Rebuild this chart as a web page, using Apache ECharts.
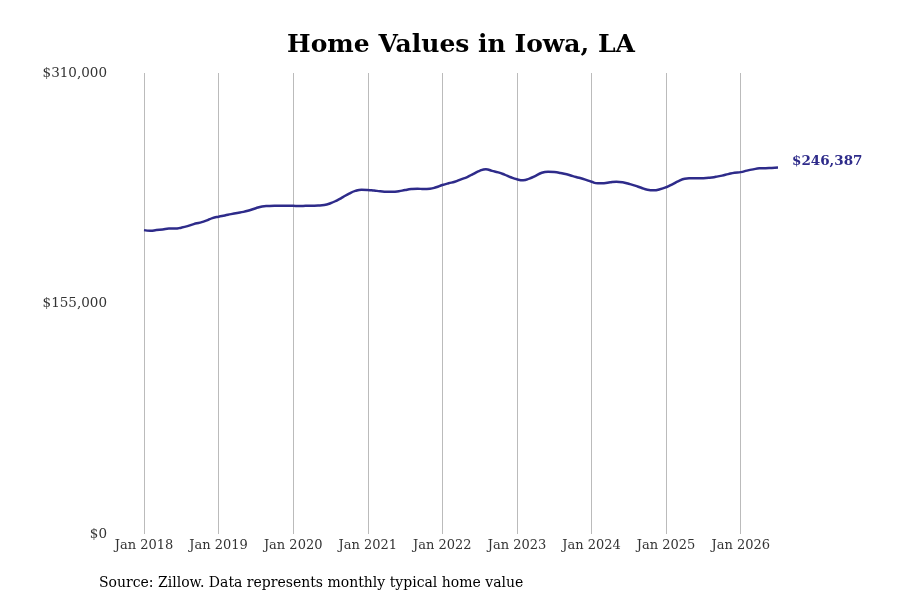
<!DOCTYPE html>
<html>
<head>
<meta charset="utf-8">
<script src="https://cdn.jsdelivr.net/npm/echarts@6/dist/echarts.min.js"></script>
<style>
  html, body { margin: 0; padding: 0; background: #fff; }
  #chart { width: 900px; height: 600px; }
</style>
</head>
<body>
<div id="chart"></div>
<script>
var monthNames = ['Jan', 'Feb', 'Mar', 'Apr', 'May', 'Jun', 'Jul', 'Aug', 'Sep', 'Oct', 'Nov', 'Dec'];

// one entry per month, Jan 2018 .. Jul 2026
var months = [];
for (var y = 2018; y <= 2026; y++) {
    for (var m = 0; m < 12; m++) {
        if (y === 2026 && m > 6) break;
        months.push(monthNames[m] + ' ' + y);
    }
}

var homeValues = [
    204350, 204000, 204350, 204800, 205350, 205350, 206000, 207000, 208400, 209400, 210700, 212400,
    213400, 214200, 215100, 215900, 216600, 217750, 219100, 220200, 220550, 220700, 220700, 220750,
    220650, 220550, 220650, 220750, 220850, 221200, 222400, 224250, 226500, 228900, 230700, 231500,
    231350, 230950, 230500, 230150, 230100, 230500, 231300, 231950, 232200, 231950, 232150, 233150,
    234650, 235850, 236850, 238500, 240050, 242200, 244200, 245200, 244200, 243200, 241700, 239900,
    238500, 237850, 239000, 240850, 242900, 243550, 243350, 242750, 241900, 240650, 239550, 238300,
    236850, 235850, 235850, 236500, 236850, 236500, 235500, 234300, 232800, 231500, 231150, 231800,
    233150, 235150, 237300, 238850, 239200, 239300, 239300, 239550, 240200, 241000, 242000, 242900,
    243350, 244350, 245200, 245900, 246000, 246200, 246387
];

var yTicks = [0, 155000, 310000];

var lineColor = '#2e2b8a';
var serif = 'DejaVu Serif';

function money(v) {
    return '$' + Math.round(v).toLocaleString('en-US');
}

function isJan(index) {
    return index % 12 === 0;
}

var chart = echarts.init(document.getElementById('chart'));
var options = {
    backgroundColor: '#fff',
    animation: false,
    title: [
        {
            text: 'Home Values in Iowa, LA',
            left: 456,
            top: 28,
            textAlign: 'center',
            textStyle: {
                fontFamily: serif,
                fontWeight: 'bold',
                fontSize: 25,
                color: '#000'
            }
        },
        {
            text: 'Source: Zillow. Data represents monthly typical home value',
            left: 94,
            top: 571,
            textStyle: {
                fontFamily: serif,
                fontWeight: 'normal',
                fontSize: 14,
                color: '#000'
            }
        }
    ],
    grid: {
        left: 144,
        right: 122,
        top: 73,
        bottom: 66,
        containLabel: false
    },
    xAxis: {
        type: 'category',
        data: months,
        boundaryGap: false,
        axisLine: { show: false },
        axisTick: { show: false },
        axisLabel: {
            interval: function (index) { return isJan(index); },
            margin: 5,
            fontFamily: serif,
            fontSize: 13,
            color: '#333'
        },
        splitLine: {
            show: true,
            interval: function (index) { return isJan(index); },
            lineStyle: { color: '#bbb', width: 1 }
        }
    },
    yAxis: {
        type: 'value',
        min: yTicks[0],
        max: yTicks[yTicks.length - 1],
        interval: yTicks[1] - yTicks[0],
        axisLine: { show: false },
        axisTick: { show: false },
        splitLine: { show: false },
        axisLabel: {
            margin: 37,
            fontFamily: serif,
            fontSize: 13.5,
            color: '#333',
            formatter: function (v) { return money(v); }
        }
    },
    series: [
        {
            type: 'line',
            data: homeValues,
            smooth: true,
            symbol: 'none',
            lineStyle: { color: lineColor, width: 2.5 },
            endLabel: {
                show: true,
                offset: [6, -6],
                fontFamily: serif,
                fontWeight: 'bold',
                fontSize: 13.5,
                color: lineColor,
                formatter: function (p) { return money(p.value); }
            }
        }
    ]
};

chart.setOption(options);
</script>
</body>
</html>
